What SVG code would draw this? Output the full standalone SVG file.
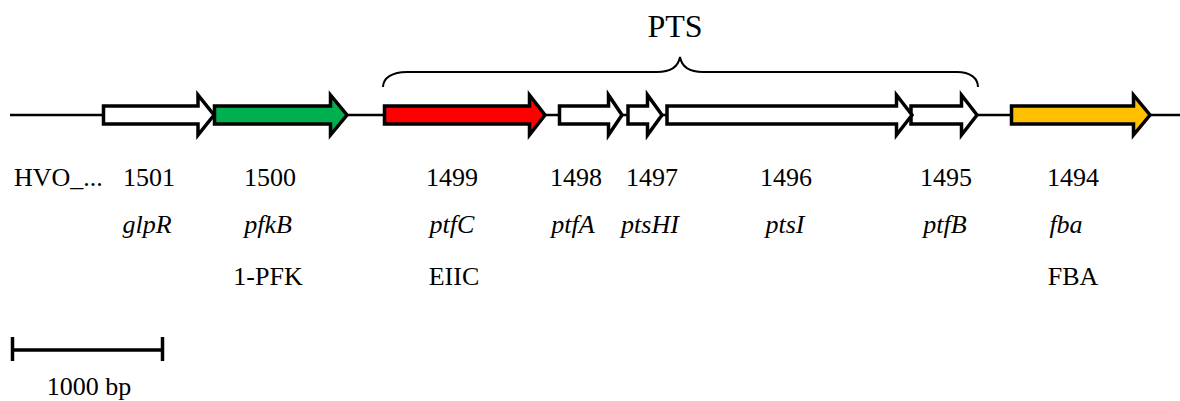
<svg xmlns="http://www.w3.org/2000/svg" width="1180" height="401" viewBox="0 0 1180 401">
<style>
.gene{stroke:#000;stroke-width:3.5;stroke-linejoin:miter;stroke-miterlimit:10}
.w{fill:#fff}.g{fill:#00B050}.r{fill:#FF0000}.y{fill:#FFC000}
text{font-family:"Liberation Serif","Times New Roman",serif;font-size:26px;fill:#000;text-anchor:middle}
.i{font-style:italic}
.ln{stroke:#000;fill:none}
</style>
<rect width="1180" height="401" fill="#fff"/>
<g id="connectors">
<line class="ln" x1="10" y1="115" x2="1180" y2="115" stroke-width="2.6"/>
<path id="brace" class="ln" stroke-width="2" d="M383,87 C383,78 392,72 407,72 L657,72 C670,72 678,68 680,57 C682,68 690,72 703,72 L957,72 C970,72 978,78 978,87"/>
<g id="scalebar" class="ln" stroke-width="3.5">
<line x1="12" y1="350" x2="163" y2="350"/>
<line x1="12.5" y1="337" x2="12.5" y2="361"/>
<line x1="162.5" y1="337" x2="162.5" y2="361"/>
</g>
</g>
<g id="g1501"><path class="gene w" d="M103.5,106 H198 V95 L214,115 L198,135 V124 H103.5 Z"/></g>
<g id="g1500"><path class="gene g" d="M214.5,106 H330.5 V95 L347,115 L330.5,135 V124 H214.5 Z"/></g>
<g id="g1499"><path class="gene r" d="M384.5,106 H529.5 V95 L545,115 L529.5,135 V124 H384.5 Z"/></g>
<g id="g1498"><path class="gene w" d="M559.5,106 H608.5 V95 L622,115 L608.5,135 V124 H559.5 Z"/></g>
<g id="g1497"><path class="gene w" d="M628,106 H647.5 V95 L662,115 L647.5,135 V124 H628 Z"/></g>
<g id="g1495"><path class="gene w" d="M911,106 H961.5 V95 L977,115 L961.5,135 V124 H911 Z"/></g>
<g id="g1496"><path class="gene w" d="M667,106 H896.5 V95 L912,115 L896.5,135 V124 H667 Z"/></g>
<g id="g1494"><path class="gene y" d="M1011.5,106 H1133.5 V95 L1150,115 L1133.5,135 V124 H1011.5 Z"/></g>
<g id="labels">
<text x="675" y="37" style="font-size:32px">PTS</text>
<text x="14" y="186" style="text-anchor:start">HVO_...</text>
<text x="149" y="186">1501</text>
<text x="270" y="186">1500</text>
<text x="452" y="186">1499</text>
<text x="576" y="186">1498</text>
<text x="652" y="186">1497</text>
<text x="786" y="186">1496</text>
<text x="946" y="186">1495</text>
<text x="1073" y="186">1494</text>
<text class="i" x="147" y="233">glpR</text>
<text class="i" x="268" y="233">pfkB</text>
<text class="i" x="452" y="233">ptfC</text>
<text class="i" x="573" y="233">ptfA</text>
<text class="i" x="650" y="233">ptsHI</text>
<text class="i" x="785" y="233">ptsI</text>
<text class="i" x="945" y="233">ptfB</text>
<text class="i" x="1066" y="233">fba</text>
<text x="268" y="285">1-PFK</text>
<text x="454" y="285">EIIC</text>
<text x="1073" y="285">FBA</text>
<text x="89" y="395">1000 bp</text>
</g>
</svg>
